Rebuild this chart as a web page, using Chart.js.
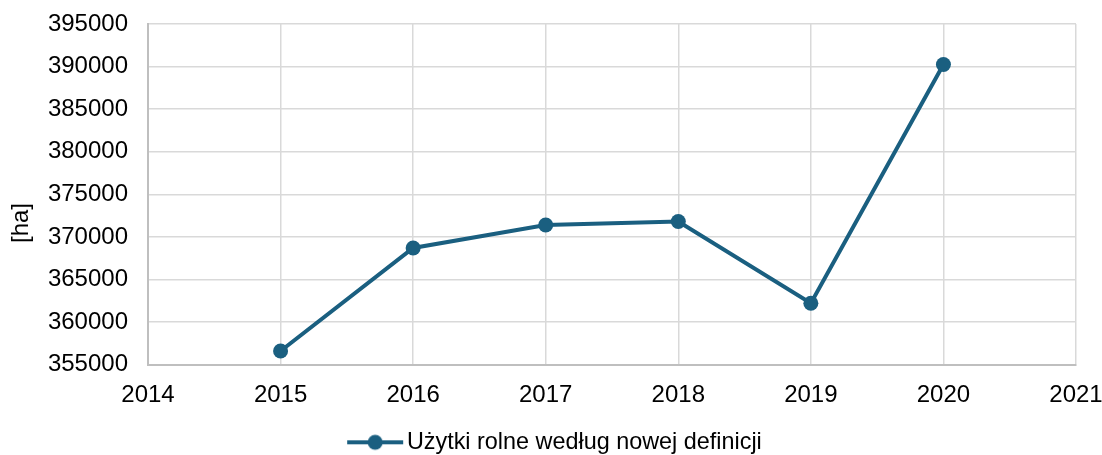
<!DOCTYPE html>
<html>
<head>
<meta charset="utf-8">
<script src="https://cdn.jsdelivr.net/npm/chart.js@4"></script>
<style>
  html, body { margin: 0; padding: 0; background: #fff; }
  #wrap { width: 1102px; height: 455px; }
</style>
</head>
<body>
<div id="wrap"><canvas id="chart" width="1102" height="455"></canvas></div>
<script>
const years = [2015, 2016, 2017, 2018, 2019, 2020];
const values = [356600, 368700, 371400, 371800, 362200, 390250];
const seriesLabel = 'Użytki rolne według nowej definicji';
const yTitle = '[ha]';

const lineColor = '#1a5f80';
const fontFamily = '"Liberation Sans", Arial, sans-serif';

// legend marker: line with a dot in the middle
function legendMarker() {
    const c = document.createElement('canvas');
    c.width = 58;
    c.height = 20;
    const g = c.getContext('2d');
    g.strokeStyle = lineColor;
    g.lineWidth = 4;
    g.beginPath();
    g.moveTo(1, 10);
    g.lineTo(57, 10);
    g.stroke();
    g.fillStyle = lineColor;
    g.beginPath();
    g.arc(29, 10, 7.5, 0, Math.PI * 2);
    g.fill();
    return c;
}

const yTitlePlugin = {
    id: 'yTitle',
    afterDraw(chart) {
        const ctx = chart.ctx;
        ctx.save();
        ctx.translate(21, 223);
        ctx.rotate(-Math.PI / 2);
        ctx.font = '24px ' + fontFamily;
        ctx.fillStyle = '#000';
        ctx.textAlign = 'center';
        ctx.textBaseline = 'middle';
        ctx.fillText(yTitle, 0, 0);
        ctx.restore();
    }
};

const ctx = document.getElementById('chart').getContext('2d');
new Chart(ctx, {
    type: 'line',
    data: {
        datasets: [{
            label: seriesLabel,
            data: years.map((y, i) => ({ x: y, y: values[i] })),
            borderColor: lineColor,
            backgroundColor: lineColor,
            borderWidth: 4,
            pointRadius: 7.5,
            pointHoverRadius: 7.5,
            pointBackgroundColor: lineColor,
            pointBorderWidth: 0,
            tension: 0,
            fill: false
        }]
    },
    options: {
        responsive: false,
        animation: false,
        layout: { padding: { left: 41, right: 26, top: 24, bottom: -9 } },
        plugins: {
            legend: {
                position: 'bottom',
                labels: {
                    usePointStyle: true,
                    pointStyle: legendMarker(),
                    pointStyleWidth: 40,
                    color: '#000',
                    font: { family: fontFamily, size: 23.4 },
                    padding: 2
                }
            },
            tooltip: { enabled: false }
        },
        scales: {
            x: {
                type: 'linear',
                min: 2014,
                max: 2021,
                ticks: {
                    stepSize: 1,
                    color: '#000',
                    padding: 16,
                    font: { family: fontFamily, size: 24 },
                    callback: v => String(v)
                },
                grid: { color: '#d9d9d9', lineWidth: 1.5, drawTicks: false },
                border: { color: '#bfbfbf', width: 2 },
                afterFit(scale) {
                    scale.height = 64;
                    scale.paddingLeft = 0;
                    scale.paddingRight = 0;
                }
            },
            y: {
                min: 355000,
                max: 395000,
                ticks: {
                    stepSize: 5000,
                    color: '#000',
                    padding: 20,
                    font: { family: fontFamily, size: 24 },
                    callback: v => String(v)
                },
                grid: { color: '#d9d9d9', lineWidth: 1.5, drawTicks: false },
                border: { color: '#bfbfbf', width: 2 },
                afterFit(scale) {
                    scale.width = 107;
                    scale.paddingTop = 0;
                    scale.paddingBottom = 0;
                }
            }
        }
    },
    plugins: [yTitlePlugin]
});
</script>
</body>
</html>
